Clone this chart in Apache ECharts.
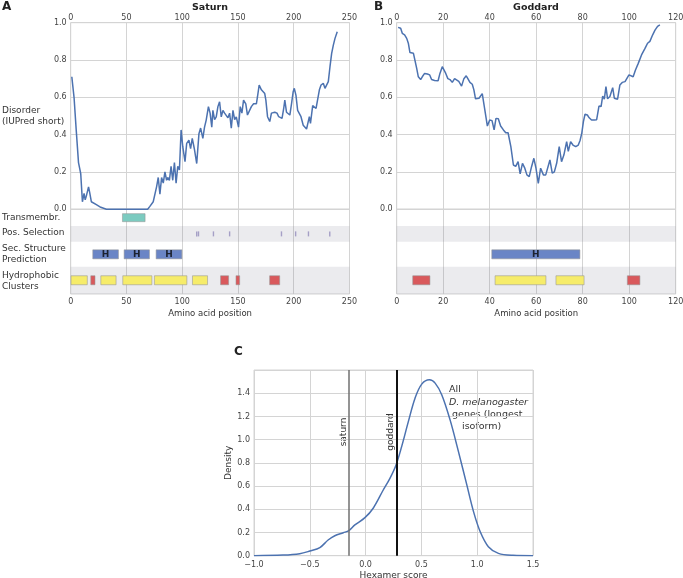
<!DOCTYPE html>
<html><head><meta charset="utf-8">
<script src="https://cdn.jsdelivr.net/npm/echarts@6/dist/echarts.min.js"></script>
<style>html,body{margin:0;padding:0;background:#fff}#c{width:683px;height:578px}</style>
</head><body><div id="c"></div>
<script>
// ---------- DATA ----------
const satPos = [1,3,5,7,8,9,10.5,12,13,14,16,17,18.5,20,23,27,32,69,71,74,75.5,77,78.5,80,81.5,83,84.5,86,87,88.5,90,91.5,93,94.5,96,97.5,99,100.5,102.5,104,106,107.5,109,111,113,115,116.5,118.5,120,121.5,123.5,125,126.5,127.5,129,130.5,132,133.5,135,136.5,138,139.5,141,142.5,144,145.5,147,148.5,150.5,152,153.5,155,157,158.5,160,162,164,166.5,167.5,169,171,172.5,174,175,176.5,178.5,180,181.5,183,185,186.5,188,189.5,191,192,193.5,195,196.5,198,199.5,200.5,202,203.5,205,206.5,207.5,208.5,210,211.5,213,214,215,217,218.5,220,221.5,223,224.5,226.5,228,229.5,231,232.5,234,235.5,237,239];
const satDisorder = [0.71,0.60,0.42,0.25,0.22,0.19,0.04,0.085,0.05,0.07,0.12,0.09,0.04,0.035,0.025,0.01,0.0,0.0,0.015,0.04,0.05,0.12,0.17,0.08,0.17,0.14,0.2,0.155,0.17,0.155,0.23,0.155,0.25,0.14,0.23,0.21,0.425,0.335,0.255,0.353,0.37,0.325,0.38,0.32,0.245,0.405,0.435,0.38,0.44,0.478,0.55,0.515,0.44,0.53,0.48,0.495,0.55,0.576,0.495,0.53,0.515,0.52,0.49,0.515,0.435,0.53,0.48,0.495,0.44,0.55,0.515,0.585,0.565,0.505,0.505,0.55,0.565,0.565,0.603,0.666,0.64,0.63,0.62,0.585,0.496,0.47,0.515,0.505,0.52,0.515,0.496,0.505,0.487,0.54,0.585,0.52,0.53,0.505,0.565,0.63,0.648,0.61,0.53,0.52,0.496,0.505,0.45,0.44,0.43,0.42,0.496,0.46,0.555,0.565,0.54,0.54,0.64,0.666,0.675,0.648,0.64,0.684,0.764,0.836,0.88,0.916,0.952];

const godPos = [0.6,1.7,2.4,3.4,4.3,5,5.7,7.2,7.9,8.6,9.3,10.3,11,12,13.2,14.2,15,16.3,17.8,18.6,19.6,20.3,21.1,22,22.9,23.9,24.9,25.7,26.7,27.9,28.9,29.9,30.6,31.5,32.5,33.2,33.9,35.4,36.8,37.8,39,40,41,41.9,42.7,43.7,44.7,45.9,46.9,47.9,49.1,50.2,51.2,52.2,53.1,54.1,55.1,56,57,58,59,59.9,60.9,61.9,63.1,64.1,64.9,65.9,66.9,67.8,68.8,69.9,70.9,71.9,73.1,73.8,74.8,75.8,77,78.1,78.9,79.6,80.3,81,82,82.8,83.8,85,86,87,87.9,88.6,89.3,90,90.7,91.7,92.9,93.6,94.3,95,96,97,98.2,99,99.9,100.7,101.7,102.7,103.9,105.3,106.8,107.9,108.9,110.1,111.1,112.2,113.2];
const godDisorder = [0.975,0.97,0.943,0.935,0.916,0.89,0.84,0.836,0.832,0.755,0.71,0.695,0.71,0.728,0.725,0.72,0.695,0.69,0.689,0.728,0.764,0.755,0.728,0.70,0.695,0.68,0.70,0.698,0.685,0.66,0.70,0.715,0.70,0.68,0.67,0.64,0.592,0.595,0.62,0.54,0.446,0.478,0.475,0.425,0.487,0.485,0.446,0.425,0.41,0.41,0.335,0.237,0.23,0.255,0.189,0.246,0.22,0.184,0.175,0.228,0.273,0.22,0.139,0.22,0.184,0.184,0.184,0.264,0.193,0.2,0.246,0.335,0.255,0.29,0.362,0.31,0.362,0.344,0.335,0.344,0.37,0.407,0.47,0.509,0.505,0.49,0.478,0.478,0.48,0.553,0.55,0.607,0.59,0.657,0.592,0.604,0.652,0.595,0.6,0.59,0.666,0.68,0.684,0.689,0.72,0.71,0.71,0.746,0.782,0.827,0.862,0.89,0.9,0.935,0.96,0.98,0.988];

// features: [start, end]
const satTransmembrane = [[46.4,66.7]];
const satPosSelection = [113,114.6,128,142.5,189,201.7,213.2,232.3];
const satHelix = [[19.8,42.8],[47.9,70.6],[76.6,99.7]];
const satHydro = [[0.3,14.9],[18,21.8],[27,40.7],[46.7,72.8],[75.1,104.2],[109.2,122.7],[134.4,141.6],[148.2,151.5],[178.4,187.4]];
const satHydroType = ['y','r','y','y','y','y','r','r','r'];
const godHelix = [[40.9,78.8]];
const godHydro = [[6.9,14.3],[42.3,64.2],[68.5,80.6],[99.2,104.6]];
const godHydroType = ['r','y','y','r'];

const hexScore = [-1.0,-0.74,-0.59,-0.5,-0.41,-0.336,-0.276,-0.2,-0.15,-0.096,-0.006,0.068,0.158,0.218,0.272,0.323,0.383,0.443,0.503,0.572,0.623,0.683,0.757,0.832,0.907,0.967,1.027,1.10,1.19,1.32,1.5];
const hexDensity = [0,0.005,0.017,0.04,0.07,0.135,0.172,0.198,0.216,0.265,0.328,0.409,0.566,0.667,0.78,0.94,1.155,1.357,1.478,1.515,1.487,1.385,1.17,0.897,0.61,0.38,0.207,0.078,0.02,0.003,0];
const markerNames = ['saturn','goddard'];
const markerScores = [-0.147, 0.278];

// ---------- STYLE / LAYOUT ----------
const FONT = 'DejaVu Sans';
const GRIDC = '#d4d4d4';
const TXT = '#444';
const LINEC = '#4c72b0';
const ROW = {tm:1.0, pos:2.91, ss:5.32, hyd:8.38};
const BANDS = [[1.98,3.83],[6.78,10]];
const COL = {y:'#f6ec6a', r:'#d9595c', tm:'#7ccbc0', h:'#6a85c6', ps:'#a59fc6'};

const zip = (a,b)=>a.map((v,i)=>[v,b[i]]);

function featSeries(xi, yi, items, row, h, colors, label, minW){
  return {
    type:'custom', xAxisIndex:xi, yAxisIndex:yi, z:3, clip:false,
    data: items.map(d=>[d[0],d[1],row]),
    encode:{x:[0,1], y:2},
    renderItem:(params, api)=>{
      const a = api.coord([api.value(0), api.value(2)]);
      const b = api.coord([api.value(1), api.value(2)]);
      let w = b[0]-a[0]; let x0 = a[0];
      if (w < minW) { x0 = a[0] - minW/2; w = minW; }
      const ch = [{type:'rect', shape:{x:x0, y:a[1]-h/2, width:w, height:h},
        style:{fill:colors[params.dataIndex], stroke: minW>1.9 ? 'rgba(150,150,150,0.55)' : null, lineWidth:1}}];
      if (label) ch.push({type:'text', style:{text:label, x:x0+w/2, y:a[1]+0.5, align:'center', verticalAlign:'middle', font:'bold 9px "'+FONT+'"', fill:'#1c2230'}});
      return {type:'group', children:ch};
    }
  };
}
function bandSeries(xi, yi){
  return {type:'line', xAxisIndex:xi, yAxisIndex:yi, data:[], z:1, silent:true,
    markArea:{silent:true, itemStyle:{color:'rgba(120,120,140,0.15)'},
      data: BANDS.map(b=>[{yAxis:b[0]},{yAxis:b[1]}])}};
}

const grids = [
  {left:70.7, top:22.7, width:278.8, height:186.5},
  {left:70.7, top:209.2, width:278.8, height:84.8},
  {left:396.7, top:22.7, width:279, height:186.5},
  {left:396.7, top:209.2, width:279, height:84.8},
  {left:254, top:370, width:279, height:185.7}
].map(g=>Object.assign(g,{show:true, borderColor:GRIDC, borderWidth:1, containLabel:false, outerBoundsMode:'none'}));

const lbl = (extra)=>Object.assign({fontFamily:FONT, fontSize:8, color:TXT}, extra||{});
function xAx(gi, min, max, interval, pos, name, fmt, margin){
  return {gridIndex:gi, type:'value', min, max, interval, position:pos,
    axisLine:{show:false}, axisTick:{show:false},
    axisLabel:lbl({margin:margin, formatter:fmt}),
    splitLine:{show:true, lineStyle:{color:GRIDC, width:1}},
    name:name||'', nameLocation:'middle', nameGap:15,
    nameTextStyle:{fontFamily:FONT, fontSize:8.5, color:'#333'}};
}
const f1 = v=>v.toFixed(1);
const fm = v=> (v<0?'\u2212'+Math.abs(v).toFixed(1):v.toFixed(1));

const option = {
  animation:false,
  backgroundColor:'#fff',
  grid: grids,
  xAxis:[
    xAx(0,0,250,50,'top',null,null,1),
    xAx(1,0,250,50,'bottom','Amino acid position',null,4),
    xAx(2,0,120,20,'top',null,null,1),
    xAx(3,0,120,20,'bottom','Amino acid position',null,4),
    Object.assign(xAx(4,-1,1.5,0.5,'bottom','Hexamer score',fm,5),{nameGap:15, nameTextStyle:{fontFamily:FONT,fontSize:9,color:'#333'}})
  ],
  yAxis:[
    {gridIndex:0, type:'value', min:0, max:1, interval:0.2, axisLine:{show:false}, axisTick:{show:false}, axisLabel:lbl({margin:4, formatter:f1}), splitLine:{lineStyle:{color:GRIDC}}},
    {gridIndex:1, type:'value', min:0, max:10, inverse:true, show:false, splitLine:{show:false}},
    {gridIndex:2, type:'value', min:0, max:1, interval:0.2, axisLine:{show:false}, axisTick:{show:false}, axisLabel:lbl({margin:4, formatter:f1}), splitLine:{lineStyle:{color:GRIDC}}},
    {gridIndex:3, type:'value', min:0, max:10, inverse:true, show:false, splitLine:{show:false}},
    {gridIndex:4, type:'value', min:0, max:1.6, interval:0.2, axisLine:{show:false}, axisTick:{show:false},
      axisLabel:lbl({margin:4, formatter:v=> v>1.5 ? '' : v.toFixed(1)}), splitLine:{lineStyle:{color:GRIDC}},
      name:'Density', nameLocation:'middle', nameGap:18, nameTextStyle:{fontFamily:FONT,fontSize:9,color:'#333'}}
  ],
  series:[
    {type:'line', xAxisIndex:0, yAxisIndex:0, data:zip(satPos,satDisorder), showSymbol:false, lineStyle:{color:LINEC, width:1.5}, z:3},
    {type:'line', xAxisIndex:2, yAxisIndex:2, data:zip(godPos,godDisorder), showSymbol:false, lineStyle:{color:LINEC, width:1.5}, z:3},
    bandSeries(1,1), bandSeries(3,3),
    featSeries(1,1,satTransmembrane,ROW.tm,8,[COL.tm],null,2),
    featSeries(1,1,satPosSelection.map(p=>[p,p]),ROW.pos,5,satPosSelection.map(()=>COL.ps),null,1.4),
    featSeries(1,1,satHelix,ROW.ss,9,satHelix.map(()=>COL.h),'H',2),
    featSeries(1,1,satHydro,ROW.hyd,9,satHydroType.map(t=>COL[t]),null,2),
    featSeries(3,3,godHelix,ROW.ss,9,godHelix.map(()=>COL.h),'H',2),
    featSeries(3,3,godHydro,ROW.hyd,9,godHydroType.map(t=>COL[t]),null,2),
    {type:'line', xAxisIndex:4, yAxisIndex:4, data:zip(hexScore,hexDensity), smooth:0.35, showSymbol:false,
      lineStyle:{color:LINEC, width:1.5}, z:3,
      markLine:{silent:true, symbol:'none', label:{show:false},
        data: markerScores.map((s,i)=>({xAxis:s, lineStyle:{color: i===0?'#707070':'#111', width: i===0?1.5:2, type:'solid'}}))}}
  ],
  graphic:[]
};

const T = (text, x, y, o)=>Object.assign({type:'text', x, y, style:Object.assign({text, font:'9px "'+FONT+'"', fill:'#333', align:'left', verticalAlign:'middle'}, (o&&o.style)||{})}, o&&o.rot!==undefined?{rotation:o.rot}:{});
option.graphic = [
  T('A',2,6.5,{style:{font:'bold 12px "'+FONT+'"', fill:'#222'}}),
  T('B',374,6.5,{style:{font:'bold 12px "'+FONT+'"', fill:'#222'}}),
  T('C',234,352,{style:{font:'bold 12px "'+FONT+'"', fill:'#222'}}),
  T('Saturn',210,7.5,{style:{font:'bold 9.5px "'+FONT+'"', fill:'#222', align:'center'}}),
  T('Goddard',536,7.5,{style:{font:'bold 9.5px "'+FONT+'"', fill:'#222', align:'center'}}),
  T('Disorder',2,111),
  T('(IUPred short)',2,122),
  T('Transmembr.',2,218),
  T('Pos. Selection',2,233),
  T('Sec. Structure',2,249),
  T('Prediction',2,260),
  T('Hydrophobic',2,276),
  T('Clusters',2,287),
  T('All',449,390,{style:{font:'9.5px "'+FONT+'"'}}),
  T('D. melanogaster',449,402.5,{style:{font:'italic 9.5px "'+FONT+'"'}}),
  T('genes (longest',452,415,{style:{font:'9.5px "'+FONT+'"'}}),
  T('isoform)',462,427,{style:{font:'9.5px "'+FONT+'"'}}),
  T(markerNames[0],348,432,{rot:Math.PI/2, style:{align:'center', verticalAlign:'bottom'}}),
  T(markerNames[1],395.5,432,{rot:Math.PI/2, style:{align:'center', verticalAlign:'bottom'}})
];

const chart = echarts.init(document.getElementById('c'), null, {renderer:'canvas'});
chart.setOption(option);
</script></body></html>
